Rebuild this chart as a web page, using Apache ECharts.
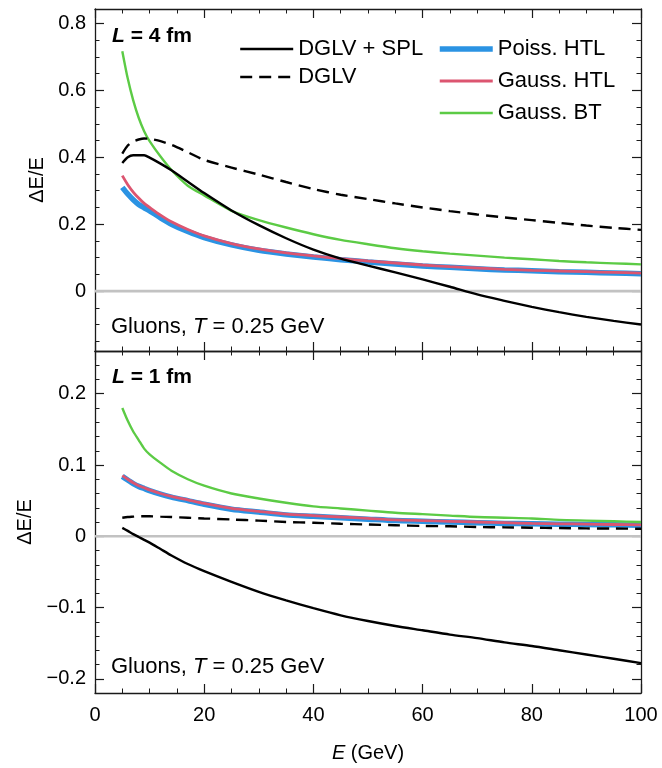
<!DOCTYPE html>
<html><head><meta charset="utf-8">
<script src="https://cdn.jsdelivr.net/npm/echarts@6/dist/echarts.min.js"></script>
<style>html,body{margin:0;padding:0;background:#fff}#c{width:662px;height:768px}</style>
</head><body><div id="c"></div>
<script>
// ---------- data ----------
const energies = [5,6,7,8,9,10,12,14,17,20,25,30,35,40,45,50,55,60,65,70,75,80,85,90,95,100];

// top panel: L = 4 fm
const top_dglvSpl = [0.383,0.400,0.406,0.406,0.406,0.399,0.381,0.361,0.327,0.293,0.241,0.197,0.158,0.124,0.097,0.076,0.056,0.035,0.013,-0.010,-0.029,-0.047,-0.063,-0.077,-0.089,-0.100];
const top_dglv    = [0.411,0.435,0.447,0.453,0.456,0.455,0.448,0.437,0.415,0.392,0.369,0.348,0.326,0.305,0.288,0.275,0.262,0.250,0.239,0.229,0.220,0.212,0.204,0.196,0.189,0.183];
const top_poiss   = [0.310,0.290,0.273,0.259,0.249,0.240,0.219,0.200,0.178,0.160,0.138,0.122,0.111,0.102,0.094,0.087,0.081,0.075,0.071,0.067,0.063,0.061,0.058,0.056,0.054,0.052];
const top_gaussH  = [0.345,0.318,0.296,0.278,0.262,0.250,0.227,0.207,0.184,0.165,0.142,0.126,0.114,0.105,0.097,0.090,0.084,0.078,0.073,0.069,0.065,0.062,0.060,0.058,0.056,0.054];
const top_gaussBT = [0.717,0.635,0.570,0.518,0.478,0.448,0.402,0.362,0.315,0.286,0.240,0.212,0.190,0.170,0.153,0.140,0.128,0.119,0.112,0.106,0.100,0.095,0.090,0.086,0.083,0.080];

// bottom panel: L = 1 fm
const bot_dglvSpl = [0.0118,0.0075,0.003,-0.001,-0.005,-0.009,-0.018,-0.027,-0.039,-0.049,-0.064,-0.078,-0.090,-0.101,-0.111,-0.119,-0.126,-0.132,-0.138,-0.143,-0.149,-0.154,-0.160,-0.166,-0.172,-0.178];
const bot_dglv    = [0.026,0.027,0.0275,0.028,0.028,0.028,0.0275,0.027,0.026,0.025,0.0235,0.022,0.020,0.019,0.0175,0.0165,0.0155,0.0145,0.014,0.013,0.0125,0.012,0.0115,0.011,0.0108,0.0105];
const bot_poiss   = [0.084,0.079,0.074,0.070,0.067,0.064,0.059,0.055,0.050,0.045,0.038,0.034,0.030,0.028,0.026,0.024,0.022,0.021,0.020,0.019,0.018,0.0175,0.017,0.0165,0.016,0.0155];
const bot_gaussH  = [0.085,0.080,0.075,0.071,0.068,0.065,0.060,0.056,0.051,0.046,0.039,0.035,0.031,0.029,0.027,0.025,0.023,0.022,0.021,0.020,0.019,0.018,0.0175,0.017,0.0165,0.016];
const bot_gaussBT = [0.180,0.162,0.147,0.135,0.123,0.115,0.103,0.092,0.080,0.071,0.060,0.053,0.047,0.042,0.039,0.036,0.033,0.031,0.029,0.027,0.026,0.025,0.023,0.022,0.021,0.020];

// axes
const xRange = [0, 100];
const topYRange = [-0.179, 0.843];
const botYRange = [-0.22, 0.26];
const topYTicks = [0, 0.2, 0.4, 0.6, 0.8];
const topYMinor = [-0.15, -0.1, -0.05, 0.05, 0.1, 0.15, 0.25, 0.3, 0.35, 0.45, 0.5, 0.55, 0.65, 0.7, 0.75];
const botYTicks = [-0.2, -0.1, 0, 0.1, 0.2];
const botYMinor = [-0.18, -0.16, -0.14, -0.12, -0.08, -0.06, -0.04, -0.02, 0.02, 0.04, 0.06, 0.08, 0.12, 0.14, 0.16, 0.18, 0.22, 0.24];
const zeroLine = [0, 0];

const names = ['DGLV + SPL', 'DGLV', 'Poiss. HTL', 'Gauss. HTL', 'Gauss. BT'];

// ---------- build ----------
const FONT = '"Liberation Sans", Arial, Helvetica, sans-serif';
const AXC = '#1a1a1a';
const pairs = (ys) => energies.map((e, i) => [e, ys[i]]);
const fmt = (v) => v === 0 ? '0' : String(v).replace('-', '\u2212');

const styles = {
  'DGLV + SPL': {color: '#000', width: 2.4, type: 'solid', z: 6},
  'DGLV':       {color: '#000', width: 2.4, type: [12, 7], z: 6},
  'Poiss. HTL': {color: '#2b93e3', width: 5.5, type: 'solid', z: 3},
  'Gauss. HTL': {color: '#dc5570', width: 2.8, type: 'solid', z: 4},
  'Gauss. BT':  {color: '#5ccb45', width: 2.4, type: 'solid', z: 5}
};

function lineSeries(name, ys, g) {
  const s = styles[name];
  return {
    type: 'line', name, xAxisIndex: g * 2, yAxisIndex: g * 4,
    data: pairs(ys), showSymbol: false, symbol: 'none', smooth: 0.25,
    lineStyle: {color: s.color, width: s.width, type: s.type},
    itemStyle: {color: s.color}, z: s.z, silent: true, animation: false
  };
}
function zeroSeries(g) {
  return {
    type: 'line', name: 'zero', xAxisIndex: g * 2, yAxisIndex: g * 4,
    data: [[xRange[0], zeroLine[0]], [xRange[1], zeroLine[1]]],
    showSymbol: false, symbol: 'none', silent: true, animation: false,
    lineStyle: {color: '#c2c2c2', width: 2.6}, z: 1
  };
}

function xAxes(g, showLabels) {
  const base = {
    type: 'value', gridIndex: g, min: xRange[0], max: xRange[1], interval: 20,
    axisLine: {show: true, onZero: false, lineStyle: {color: AXC, width: 1.3}},
    axisTick: {show: true, inside: true, length: 9, lineStyle: {color: AXC, width: 1.2}},
    minorTick: {show: true, splitNumber: 4, length: 4.5, lineStyle: {color: AXC, width: 1}},
    splitLine: {show: false}, minorSplitLine: {show: false}
  };
  const bottom = Object.assign({}, base, {
    position: 'bottom',
    axisLabel: {show: showLabels, color: '#000', fontSize: 20, fontFamily: FONT, margin: 12},
  });
  if (showLabels) {
    Object.assign(bottom, {
      name: '{i|E} (GeV)', nameLocation: 'middle', nameGap: 50,
      nameTextStyle: {fontSize: 20, fontFamily: FONT, color: '#000',
        rich: {i: {fontStyle: 'italic', fontSize: 20, fontFamily: FONT, color: '#000'}}}
    });
  }
  const top = Object.assign({}, base, {position: 'top', axisLabel: {show: false}});
  return [bottom, top];
}

function yAxes(g, range, ticks, minor) {
  const common = {type: 'value', gridIndex: g, min: range[0], max: range[1], splitLine: {show: false}};
  return [
    Object.assign({}, common, {
      position: 'left',
      name: '\u0394E/E', nameLocation: 'middle', nameGap: 46,
      nameTextStyle: {fontSize: 20, fontFamily: FONT, color: '#000'},
      axisLine: {show: true, onZero: false, lineStyle: {color: AXC, width: 1.3}},
      axisTick: {show: true, inside: true, length: 9, customValues: ticks, lineStyle: {color: AXC, width: 1.2}},
      axisLabel: {show: true, customValues: ticks, formatter: fmt, color: '#000', fontSize: 20, fontFamily: FONT, margin: 9}
    }),
    Object.assign({}, common, {
      position: 'left', axisLine: {show: false, onZero: false},
      axisTick: {show: true, inside: true, length: 4.5, customValues: minor, lineStyle: {color: AXC, width: 1}},
      axisLabel: {show: false}
    }),
    Object.assign({}, common, {
      position: 'right',
      axisLine: {show: true, onZero: false, lineStyle: {color: AXC, width: 1.3}},
      axisTick: {show: true, inside: true, length: 9, customValues: ticks, lineStyle: {color: AXC, width: 1.2}},
      axisLabel: {show: false}
    }),
    Object.assign({}, common, {
      position: 'right', axisLine: {show: false, onZero: false},
      axisTick: {show: true, inside: true, length: 4.5, customValues: minor, lineStyle: {color: AXC, width: 1}},
      axisLabel: {show: false}
    })
  ];
}

const topData = [top_dglvSpl, top_dglv, top_poiss, top_gaussH, top_gaussBT];
const botData = [bot_dglvSpl, bot_dglv, bot_poiss, bot_gaussH, bot_gaussBT];

const series = [zeroSeries(0), zeroSeries(1)];
names.forEach((n, i) => { series.push(lineSeries(n, topData[i], 0)); });
names.forEach((n, i) => { series.push(lineSeries(n, botData[i], 1)); });

function txt(x, y, rich, str) {
  return {type: 'text', x, y, silent: true, z: 20,
    style: {text: str, rich, fontFamily: FONT, fontSize: 22, fill: '#000', verticalAlign: 'middle', align: 'left'}};
}
const richL = {b: {fontWeight: 'bold', fontSize: 21, fontFamily: FONT, fill: '#000'},
               bi: {fontWeight: 'bold', fontStyle: 'italic', fontSize: 21, fontFamily: FONT, fill: '#000'}};
const richG = {n: {fontSize: 22, fontFamily: FONT, fill: '#000'},
               i: {fontStyle: 'italic', fontSize: 22, fontFamily: FONT, fill: '#000'}};

const legendItems = names.map((n) => ({
  name: n,
  lineStyle: {color: styles[n].color, width: styles[n].width, type: styles[n].type, opacity: 1}
}));

const legendCommon = {
  orient: 'vertical', padding: 0, itemWidth: 53, itemHeight: 20, selectedMode: false,
  textStyle: {fontSize: 22, fontFamily: FONT, color: '#000'},
  itemStyle: {opacity: 0}
};

const option = {
  animation: false,
  backgroundColor: '#fff',
  grid: [
    {left: 95, right: 21, top: 9, height: 342},
    {left: 95, right: 21, top: 351, height: 342}
  ],
  xAxis: [...xAxes(0, false), ...xAxes(1, true)],
  yAxis: [...yAxes(0, topYRange, topYTicks, topYMinor), ...yAxes(1, botYRange, botYTicks, botYMinor)],
  legend: [
    Object.assign({}, legendCommon, {data: legendItems.slice(0, 2), left: 239, top: 38, itemGap: 6}),
    Object.assign({}, legendCommon, {data: legendItems.slice(2), left: 437, top: 38, itemGap: 10})
  ],
  graphic: [
    txt(112, 36, richL, '{bi|L}{b| = 4 fm}'),
    txt(111, 327, richG, '{n|Gluons, }{i|T}{n| = 0.25 GeV}'),
    txt(112, 377, richL, '{bi|L}{b| = 1 fm}'),
    txt(111, 667, richG, '{n|Gluons, }{i|T}{n| = 0.25 GeV}')
  ],
  series
};

const chart = echarts.init(document.getElementById('c'), null, {renderer: 'canvas'});
chart.setOption(option);
</script>
</body></html>
